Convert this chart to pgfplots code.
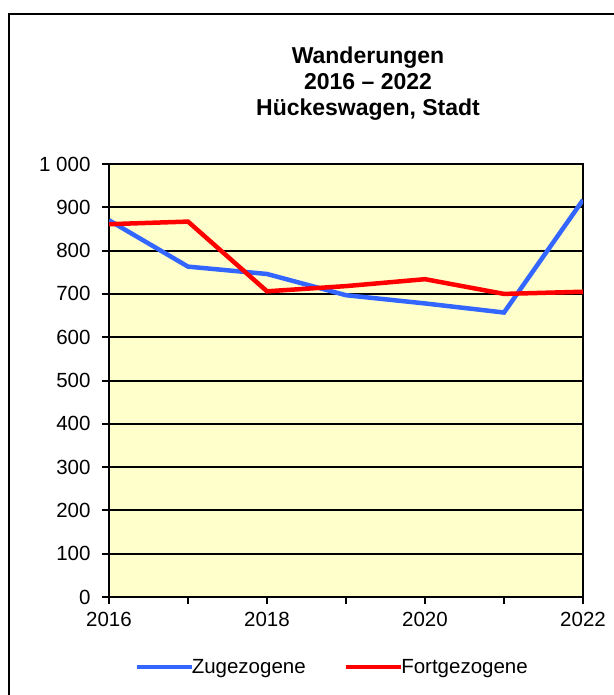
\documentclass[border=0pt]{standalone}
\usepackage{fontspec}
\setmainfont{Liberation Sans}
\usepackage{pgfplots}
\pgfplotsset{compat=1.18}
\definecolor{bgyellow}{HTML}{FFFFCC}
\definecolor{zublue}{HTML}{3366FF}
\definecolor{fored}{HTML}{FF0000}
\begin{document}
\begin{tikzpicture}
\useasboundingbox (0pt,0pt) rectangle (613pt,-695pt);
\fill[white] (0pt,0pt) rectangle (613pt,-695pt);
\draw[line width=2pt] (8.5pt,-700pt) -- (8.5pt,-14pt) -- (620pt,-14pt);
\node[anchor=base,font=\fontsize{23}{27}\selectfont\bfseries] at (368pt,-64pt) {Wanderungen};
\node[anchor=base,font=\fontsize{23}{27}\selectfont\bfseries] at (368pt,-90pt) {2016 – 2022};
\node[anchor=base,font=\fontsize{23}{27}\selectfont\bfseries] at (368pt,-116pt) {Hückeswagen, Stadt};
\begin{axis}[
  at={(109pt,-597pt)}, anchor=south west,
  scale only axis, width=474pt, height=433pt,
  xmin=2016, xmax=2022, ymin=0, ymax=1000,
  xtick={2016,2017,2018,2019,2020,2021,2022},
  xticklabels={2016,,2018,,2020,,2022},
  ytick={0,100,200,300,400,500,600,700,800,900,1000},
  yticklabels={0,100,200,300,400,500,600,700,800,900,1 000},
  /pgf/number format/assume math mode=true,
  tick label style={font=\fontsize{20.5}{24}\selectfont},
  tick align=outside, tick pos=left,
  major tick length=7pt,
  every tick/.style={black, line width=2pt},
  ymajorgrids, grid style={black, line width=2pt},
  axis line style={line width=2.6pt},
  axis background/.style={fill=bgyellow},
  yticklabel style={xshift=-8pt},
  xticklabel style={yshift=-5pt},
  legend columns=2,
  legend style={at={(axis description cs:0.4705,-0.1617)}, anchor=center, draw=none, fill=none,
    font=\fontsize{20.5}{24}\selectfont, /tikz/every even column/.append style={column sep=36pt},
    inner sep=0pt},
  legend image code/.code={\draw[#1] (0pt,0pt) -- (55pt,0pt);},
  legend cell align=left,
]
\addplot[zublue, line width=4.5pt] coordinates {
(2016,870) (2017,763) (2018,746) (2019,697) (2020,678) (2021,657) (2022,917)};
\addlegendentry{\hspace{-4pt}Zugezogene}
\addplot[fored, line width=4.5pt] coordinates {
(2016,861) (2017,867) (2018,706) (2019,718) (2020,734) (2021,700) (2022,705)};
\addlegendentry{\hspace{-4pt}Fortgezogene}
\end{axis}
\end{tikzpicture}
\end{document}
